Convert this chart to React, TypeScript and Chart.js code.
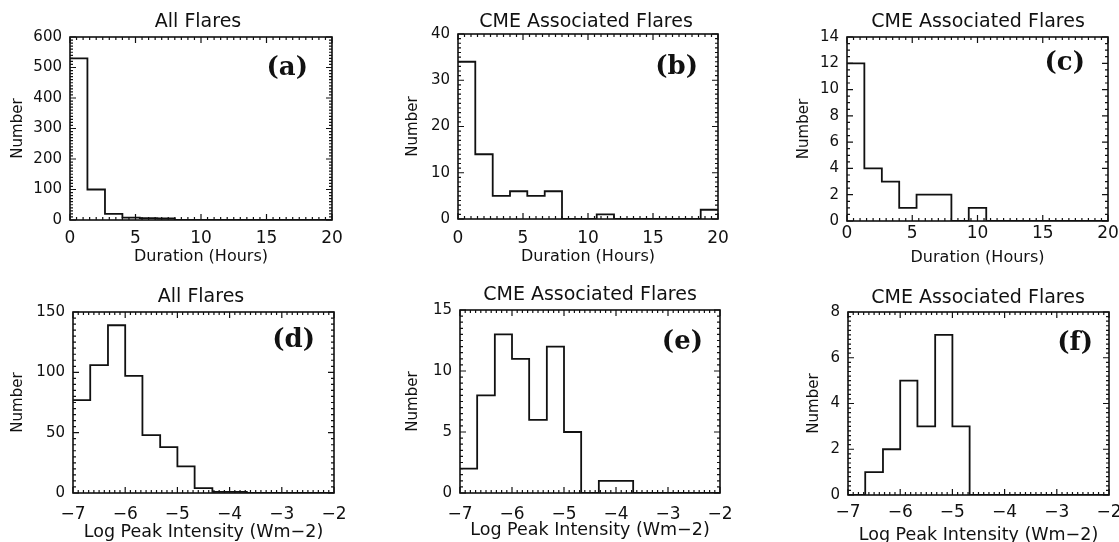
import React, { useEffect, useRef } from "react";
import { Chart, registerables } from "chart.js";

Chart.register(...registerables);

// ---------- DATA ----------
const durationEdges = [0, 1.33, 2.67, 4, 5.33, 6.67, 8, 9.33, 10.67, 12, 13.33, 14.67, 16, 17.33, 18.67, 20];
const intensityEdges = [-7, -6.67, -6.33, -6, -5.67, -5.33, -5, -4.67, -4.33, -4, -3.67, -3.33, -3, -2.67, -2.33, -2];

const allFlaresDuration = [530, 100, 20, 8, 6, 5, 0, 0, 0, 0, 0, 0, 0, 0, 0];
const cmeFlaresDurationB = [34, 14, 5, 6, 5, 6, 0, 0, 1, 0, 0, 0, 0, 0, 2];
const cmeFlaresDurationC = [12, 4, 3, 1, 2, 2, 0, 1, 0, 0, 0, 0, 0, 0, 0];
const allFlaresIntensity = [77, 106, 139, 97, 48, 38, 22, 4, 1, 1, 0, 0, 0, 0, 0];
const cmeFlaresIntensityE = [2, 8, 13, 11, 6, 12, 5, 0, 1, 1, 0, 0, 0, 0, 0];
const cmeFlaresIntensityF = [0, 1, 2, 5, 3, 7, 3, 0, 0, 0, 0, 0, 0, 0, 0];

const panelTitles = ["All Flares", "CME Associated Flares", "CME Associated Flares", "All Flares", "CME Associated Flares", "CME Associated Flares"];
const panelLabels = ["(a)", "(b)", "(c)", "(d)", "(e)", "(f)"];
const durationTitle = "Duration (Hours)";
const intensityTitle = "Log Peak Intensity (Wm\u22122)";
const yTitle = "Number";

// ---------- LAYOUT ----------
type Panel = {
  edges: number[];
  values: number[];
  title: string;
  label: string;
  xTitle: string;
  xTitleFont: number;
  xMin: number; xMax: number; xMajor: number; xMinor: number;
  yMax: number; yMajor: number; yMinor: number;
  cx: number; cy: number; cw: number; ch: number;
  L: number; T: number; R: number; B: number;
  xTickY: number; xTitleY: number; yTitleX: number;
  titleX: number; titleY: number; labelX: number; labelY: number;
};

const TOP = { cy: 0, ch: 271 };
const BOT = { cy: 271, ch: 280 };
const COL = [{ cx: 0, cw: 390 }, { cx: 390, cw: 390 }, { cx: 780, cw: 360 }];

const panels: Panel[] = [
  {
    edges: durationEdges, values: allFlaresDuration, title: panelTitles[0], label: panelLabels[0], xTitle: durationTitle, xTitleFont: 16,
    xMin: 0, xMax: 20, xMajor: 5, xMinor: 0.5, yMax: 600, yMajor: 100, yMinor: 10,
    ...COL[0], ...TOP, L: 70, T: 37, R: 332, B: 220,
    xTickY: 239, xTitleY: 257, yTitleX: 18, titleX: 198, titleY: 22, labelX: 308, labelY: 68,
  },
  {
    edges: durationEdges, values: cmeFlaresDurationB, title: panelTitles[1], label: panelLabels[1], xTitle: durationTitle, xTitleFont: 16,
    xMin: 0, xMax: 20, xMajor: 5, xMinor: 0.5, yMax: 40, yMajor: 10, yMinor: 1,
    ...COL[1], ...TOP, L: 458, T: 34, R: 718, B: 219,
    xTickY: 239, xTitleY: 257, yTitleX: 413, titleX: 586, titleY: 22, labelX: 698, labelY: 67,
  },
  {
    edges: durationEdges, values: cmeFlaresDurationC, title: panelTitles[2], label: panelLabels[2], xTitle: durationTitle, xTitleFont: 16,
    xMin: 0, xMax: 20, xMajor: 5, xMinor: 0.5, yMax: 14, yMajor: 2, yMinor: 0.5,
    ...COL[2], ...TOP, L: 847, T: 37, R: 1108, B: 221,
    xTickY: 234, xTitleY: 258, yTitleX: 804, titleX: 978, titleY: 22, labelX: 1085, labelY: 63,
  },
  {
    edges: intensityEdges, values: allFlaresIntensity, title: panelTitles[3], label: panelLabels[3], xTitle: intensityTitle, xTitleFont: 17.5,
    xMin: -7, xMax: -2, xMajor: 1, xMinor: 0.1, yMax: 150, yMajor: 50, yMinor: 5,
    ...COL[0], ...BOT, L: 73, T: 312, R: 334, B: 493,
    xTickY: 515, xTitleY: 532, yTitleX: 18, titleX: 201, titleY: 297, labelX: 315, labelY: 340,
  },
  {
    edges: intensityEdges, values: cmeFlaresIntensityE, title: panelTitles[4], label: panelLabels[4], xTitle: intensityTitle, xTitleFont: 17.5,
    xMin: -7, xMax: -2, xMajor: 1, xMinor: 0.1, yMax: 15, yMajor: 5, yMinor: 0.5,
    ...COL[1], ...BOT, L: 460, T: 310, R: 720, B: 493,
    xTickY: 515, xTitleY: 530, yTitleX: 413, titleX: 590, titleY: 295, labelX: 703, labelY: 342,
  },
  {
    edges: intensityEdges, values: cmeFlaresIntensityF, title: panelTitles[5], label: panelLabels[5], xTitle: intensityTitle, xTitleFont: 17.5,
    xMin: -7, xMax: -2, xMajor: 1, xMinor: 0.1, yMax: 8, yMajor: 2, yMinor: 0.2,
    ...COL[2], ...BOT, L: 848, T: 312, R: 1109, B: 495,
    xTickY: 513, xTitleY: 535, yTitleX: 814, titleX: 978, titleY: 298, labelX: 1093, labelY: 343,
  },
];

const INK = "#111";
const SANS = '"DejaVu Sans", sans-serif';

const fmt = (v: number) => (v < 0 ? "\u2212" + Math.abs(v) : String(v));

const decorPlugin = {
  id: "decor",
  afterDraw(chart: any, _args: any, opts: any) {
    const { ctx, chartArea } = chart;
    const { left, top, right, bottom } = chartArea;
    const xs = chart.scales.x;
    const ys = chart.scales.y;
    ctx.save();
    ctx.strokeStyle = INK;
    ctx.lineWidth = 1.2;
    const drawTicks = (scale: any, min: number, max: number, minor: number, major: number, horiz: boolean) => {
      const n = Math.round((max - min) / minor);
      for (let i = 0; i <= n; i++) {
        const v = min + i * minor;
        const r = v / major;
        const isMajor = Math.abs(r - Math.round(r)) < 1e-6;
        const len = isMajor ? 6 : 3;
        const p = scale.getPixelForValue(v);
        ctx.beginPath();
        if (horiz) {
          ctx.moveTo(p, bottom); ctx.lineTo(p, bottom - len);
          ctx.moveTo(p, top); ctx.lineTo(p, top + len);
        } else {
          ctx.moveTo(left, p); ctx.lineTo(left + len, p);
          ctx.moveTo(right, p); ctx.lineTo(right - len, p);
        }
        ctx.stroke();
      }
    };
    drawTicks(xs, opts.xMin, opts.xMax, opts.xMinor, opts.xMajor, true);
    drawTicks(ys, 0, opts.yMax, opts.yMinor, opts.yMajor, false);
    ctx.lineWidth = 1.6;
    ctx.strokeRect(left, top, right - left, bottom - top);
    ctx.fillStyle = INK;
    ctx.font = "19px " + SANS;
    ctx.textAlign = "center";
    ctx.textBaseline = "middle";
    ctx.fillText(opts.title, opts.titleX, opts.titleY);
    ctx.font = 'bold 26px "DejaVu Serif", serif';
    ctx.textAlign = "right";
    ctx.fillText(opts.label, opts.labelX, opts.labelY);
    ctx.restore();
  },
};

function HistPanel({ p }: { p: Panel }) {
  const ref = useRef<HTMLCanvasElement | null>(null);
  useEffect(() => {
    if (!ref.current) return;
    const pts = p.values.map((v, i) => ({ x: p.edges[i], y: v }));
    pts.push({ x: p.edges[p.edges.length - 1], y: p.values[p.values.length - 1] });
    const xTickFont = 17;
    const yTickFont = 15;
    const xTitleFont = p.xTitleFont;
    const yTitleFont = 15;
    const chart = new Chart(ref.current, {
      type: "line",
      data: {
        datasets: [
          {
            data: pts,
            stepped: "before",
            borderColor: INK,
            borderWidth: 1.8,
            pointRadius: 0,
            fill: false,
          },
        ],
      },
      options: {
        responsive: false,
        animation: false,
        events: [],
        layout: { padding: { left: 0, top: p.T - p.cy, right: p.cx + p.cw - p.R, bottom: 0 } },
        plugins: {
          legend: { display: false },
          tooltip: { enabled: false },
          decor: {
            xMin: p.xMin, xMax: p.xMax, xMajor: p.xMajor, xMinor: p.xMinor,
            yMax: p.yMax, yMajor: p.yMajor, yMinor: p.yMinor,
            title: p.title, titleX: p.titleX - p.cx, titleY: p.titleY - p.cy,
            label: p.label, labelX: p.labelX - p.cx, labelY: p.labelY - p.cy,
          },
        } as any,
        scales: {
          x: {
            type: "linear",
            min: p.xMin,
            max: p.xMax,
            afterFit: (s: any) => { s.height = p.cy + p.ch - p.B; },
            grid: { display: false, drawTicks: false },
            border: { display: false },
            ticks: {
              stepSize: p.xMajor,
              autoSkip: false,
              maxRotation: 0,
              padding: p.xTickY - p.B - (xTickFont * 1.2) / 2,
              color: INK,
              font: { family: SANS, size: xTickFont },
              callback: (v: any) => fmt(Number(v)),
            },
            title: {
              display: true,
              text: p.xTitle,
              color: INK,
              font: { family: SANS, size: xTitleFont },
              padding: { top: 0, bottom: p.cy + p.ch - p.xTitleY - (xTitleFont * 1.2) / 2 },
            },
          },
          y: {
            type: "linear",
            min: 0,
            max: p.yMax,
            afterFit: (s: any) => { s.width = p.L - p.cx; },
            grid: { display: false, drawTicks: false },
            border: { display: false },
            ticks: {
              stepSize: p.yMajor,
              autoSkip: false,
              padding: 8,
              color: INK,
              font: { family: SANS, size: yTickFont },
              callback: (v: any) => fmt(Number(v)),
            },
            title: {
              display: true,
              text: yTitle,
              color: INK,
              font: { family: SANS, size: yTitleFont },
              padding: { top: p.yTitleX - p.cx - (yTitleFont * 1.2) / 2, bottom: 0 },
            },
          },
        },
      } as any,
      plugins: [decorPlugin as any],
    });
    return () => chart.destroy();
  }, [p]);
  return (
    <canvas
      ref={ref}
      width={p.cw}
      height={p.ch}
      style={{ position: "absolute", left: p.cx, top: p.cy, width: p.cw, height: p.ch }}
    />
  );
}

export default function App() {
  return (
    <div
      style={{
        position: "fixed",
        left: 0,
        top: 0,
        width: 1119,
        height: 542,
        overflow: "hidden",
        background: "#fff",
      }}
    >
      {panels.map((p, i) => (
        <HistPanel key={i} p={p} />
      ))}
    </div>
  );
}
